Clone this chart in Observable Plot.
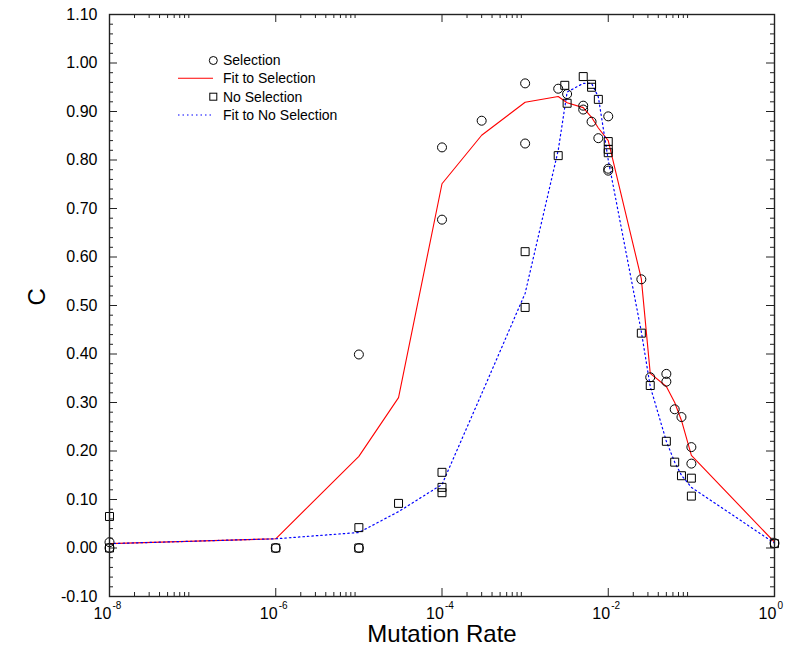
<!DOCTYPE html>
<html><head><meta charset="utf-8">
<script src="https://cdn.jsdelivr.net/npm/d3@7"></script>
<script src="https://cdn.jsdelivr.net/npm/@observablehq/plot@0.6"></script>
<style>
html,body{margin:0;padding:0;background:#fff;}
#wrap{position:relative;width:785px;height:650px;font-family:"Liberation Sans",Arial,sans-serif;}
#legend{position:absolute;left:170px;top:40px;}
</style></head><body><div id="wrap"></div>
<script>
// Selection (circles)
const selX = [1e-8,1e-8,1e-6,1e-5,1e-5,1e-4,1e-4,3e-4,1e-3,1e-3,2.5e-3,3.2e-3,5e-3,5e-3,6.3e-3,7.6e-3,1e-2,1e-2,1e-2,2.5e-2,3.2e-2,5e-2,5e-2,6.3e-2,7.6e-2,1e-1,1e-1,1];
const selY = [0.012,0.0,0.0,0.0,0.399,0.826,0.677,0.881,0.958,0.834,0.947,0.936,0.912,0.904,0.879,0.845,0.890,0.782,0.778,0.554,0.352,0.359,0.343,0.286,0.270,0.208,0.174,0.010];
// No Selection (squares)
const noSelX = [1e-8,1e-8,1e-6,1e-5,1e-5,3e-5,1e-4,1e-4,1e-4,1e-3,1e-3,2.5e-3,3e-3,3.2e-3,5e-3,6.3e-3,6.3e-3,7.6e-3,1e-2,1e-2,1e-2,2.5e-2,3.2e-2,5e-2,6.3e-2,7.6e-2,1e-1,1e-1,1];
const noSelY = [0.065,0.0,0.0,0.042,0.0,0.092,0.156,0.125,0.114,0.611,0.496,0.809,0.954,0.917,0.972,0.956,0.950,0.925,0.838,0.822,0.815,0.443,0.335,0.220,0.177,0.149,0.144,0.107,0.009];
// Fit to Selection
const fitSelX = [1e-8,1e-6,1e-5,3e-5,1e-4,3e-4,1e-3,2.5e-3,3.2e-3,5e-3,6.3e-3,7.6e-3,1e-2,2.5e-2,3.2e-2,5e-2,6.3e-2,7.6e-2,1e-1,1];
const fitSelY = [0.009,0.019,0.189,0.310,0.751,0.851,0.919,0.931,0.918,0.908,0.888,0.866,0.840,0.555,0.360,0.333,0.300,0.263,0.191,0.012];
// Fit to No Selection
const fitNoSelX = [1e-8,1e-6,1e-5,3e-5,1e-4,3e-4,1e-3,2.5e-3,3.2e-3,5e-3,6.3e-3,7.6e-3,1e-2,2.5e-2,3.2e-2,5e-2,6.3e-2,7.6e-2,1e-1,1];
const fitNoSelY = [0.009,0.019,0.032,0.075,0.131,0.318,0.525,0.820,0.940,0.958,0.958,0.930,0.800,0.446,0.333,0.220,0.177,0.150,0.125,0.010];

// Axis ticks and labels
const xMajor = [1e-8,1e-6,1e-4,1e-2,1];
const xExponents = ["-8","-6","-4","-2","0"];
const xMinorMult = [2,3,4,5,6,7,8,9];
const yMajor = [-0.1,0,0.1,0.2,0.3,0.4,0.5,0.6,0.7,0.8,0.9,1.0,1.1];
const legendLabels = ["Selection","Fit to Selection","No Selection","Fit to No Selection"];
const xTitle = "Mutation Rate";
const yTitle = "C";

const xMinor = xMajor.slice(0,4).flatMap(m => xMinorMult.map(k => k*m));
const yMinor = d3.range(-4,55).map(i => i*0.02).filter(v => Math.abs(v*10 - Math.round(v*10)) > 1e-6);

const sel = selX.map((x,i) => ({x, y: selY[i]}));
const nosel = noSelX.map((x,i) => ({x, y: noSelY[i]}));
const fitSel = fitSelX.map((x,i) => ({x, y: fitSelY[i]}));
const fitNoSel = fitNoSelX.map((x,i) => ({x, y: fitNoSelY[i]}));

const W = 785, H = 650, mL = 109, mR = 11, mT = 14, mB = 54;
const FW = W - mL - mR, FH = H - mT - mB;
const axisCol = "#222";

const chart = Plot.plot({
  width: W, height: H,
  marginLeft: mL, marginRight: mR, marginTop: mT, marginBottom: mB,
  style: {fontFamily: '"Liberation Sans", Arial, sans-serif', background: "#fff"},
  x: {type: "log", domain: [1e-8, 1], axis: null},
  y: {domain: [-0.1, 1.1], axis: null},
  marks: [
    Plot.line(fitSel, {x: "x", y: "y", stroke: "#ff0000", strokeWidth: 1.1}),
    Plot.line(fitNoSel, {x: "x", y: "y", stroke: "#0000ff", strokeWidth: 1.2, strokeDasharray: "1.5,3"}),
    Plot.dot(sel, {x: "x", y: "y", r: 4.5, stroke: "#000", fill: "none", strokeWidth: 1}),
    Plot.dot(nosel, {x: "x", y: "y", r: 4.5, symbol: "square", stroke: "#000", fill: "none", strokeWidth: 1}),
    Plot.frame({stroke: axisCol, strokeWidth: 1.4}),
    // bottom/top ticks
    Plot.ruleX(xMajor, {x: d => d, insetTop: FH - 8, stroke: axisCol}),
    Plot.ruleX(xMajor, {x: d => d, insetBottom: FH - 8, stroke: axisCol}),
    Plot.ruleX(xMinor, {x: d => d, insetTop: FH - 4, stroke: axisCol}),
    Plot.ruleX(xMinor, {x: d => d, insetBottom: FH - 4, stroke: axisCol}),
    // left/right ticks
    Plot.ruleY(yMajor, {y: d => d, insetRight: FW - 8, stroke: axisCol}),
    Plot.ruleY(yMajor, {y: d => d, insetLeft: FW - 8, stroke: axisCol}),
    Plot.ruleY(yMinor, {y: d => d, insetRight: FW - 4, stroke: axisCol}),
    Plot.ruleY(yMinor, {y: d => d, insetLeft: FW - 4, stroke: axisCol}),
    // y tick labels
    Plot.text(yMajor, {y: d => d, frameAnchor: "left", dx: -12, textAnchor: "end", text: d => d.toFixed(2), fontSize: 16, fill: "#000"}),
    // x tick labels
    Plot.text(xMajor, {x: d => d, frameAnchor: "bottom", dx: -7, dy: 17, textAnchor: "middle", lineAnchor: "middle", text: () => "10", fontSize: 16, fill: "#000"}),
    Plot.text(xMajor, {x: d => d, frameAnchor: "bottom", dx: 3, dy: 9, textAnchor: "start", lineAnchor: "middle", text: (d,i) => xExponents[i], fontSize: 10, fill: "#000"}),
    // titles
    Plot.text([xTitle], {frameAnchor: "bottom", dy: 38, lineAnchor: "middle", text: d => d, fontSize: 24, fill: "#000"}),
    Plot.text([yTitle], {frameAnchor: "left", dx: -72, rotate: -90, lineAnchor: "middle", text: d => d, fontSize: 24, fill: "#000"})
  ]
});
const wrap = document.getElementById("wrap");
wrap.appendChild(chart);

// Legend overlay
const lg = d3.create("svg").attr("id","legend").attr("width",200).attr("height",90)
  .style("font-family",'"Liberation Sans", Arial, sans-serif');
const rowsY = [20.5, 38.3, 56.7, 75];
lg.append("circle").attr("cx",43.3).attr("cy",rowsY[0]).attr("r",4).attr("fill","none").attr("stroke","#000");
lg.append("line").attr("x1",8).attr("x2",43).attr("y1",rowsY[1]).attr("y2",rowsY[1]).attr("stroke","#ff0000").attr("stroke-width",1.1);
lg.append("rect").attr("x",39.8).attr("y",rowsY[2]-3.5).attr("width",7).attr("height",7).attr("fill","none").attr("stroke","#000");
lg.append("line").attr("x1",8).attr("x2",41).attr("y1",rowsY[3]).attr("y2",rowsY[3]).attr("stroke","#0000ff").attr("stroke-width",1.2).attr("stroke-dasharray","1.5,3");
legendLabels.forEach((t,i) => {
  lg.append("text").attr("x",53).attr("y",rowsY[i]).attr("dy","0.35em").attr("font-size",14).attr("fill","#000").text(t);
});
wrap.appendChild(lg.node());
</script>
</body></html>
